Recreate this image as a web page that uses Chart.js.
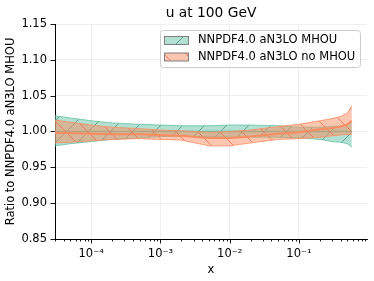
<!DOCTYPE html>
<html><head><meta charset="utf-8">
<script src="https://cdn.jsdelivr.net/npm/chart.js@4.4.0/dist/chart.umd.min.js"></script>
<style>html,body{margin:0;padding:0;background:#fff;}#wrap{width:374px;height:281px;}</style>
</head><body><div id="wrap"><canvas id="c" width="374" height="281"></canvas></div>
<script>
// ---- data ----
const xValues      = [3e-5, 5e-5, 1e-4, 2e-4, 5e-4, 1e-3, 2e-3, 5e-3, 1e-2, 2e-2, 5e-2, 0.1, 0.2, 0.3, 0.4, 0.5, 0.58];
const mhouUpper    = [1.022,1.019,1.015,1.012,1.010,1.009,1.008,1.008,1.009,1.009,1.008,1.006,1.006,1.007,1.008,1.010,1.012];
const mhouCentral  = [1.000,1.000,1.000,1.000,1.000,1.000,1.000,1.000,1.000,1.000,1.000,1.000,1.000,1.000,1.000,1.000,1.000];
const mhouLower    = [0.980,0.983,0.986,0.989,0.991,0.993,0.993,0.993,0.992,0.992,0.992,0.991,0.989,0.986,0.985,0.983,0.978];
const noMhouUpper  = [1.016,1.013,1.009,1.006,1.004,1.002,1.001,0.999,1.000,1.002,1.007,1.010,1.015,1.018,1.021,1.026,1.036];
const noMhouCentral= [0.998,0.998,0.997,0.996,0.996,0.995,0.994,0.991,0.991,0.993,0.997,0.999,1.003,1.005,1.007,1.010,1.015];
const noMhouLower  = [0.984,0.985,0.987,0.989,0.990,0.989,0.988,0.980,0.980,0.984,0.989,0.990,0.992,0.994,0.995,0.996,0.996];
const yTicks       = [0.85, 0.90, 0.95, 1.00, 1.05, 1.10, 1.15];
const xMajorTicks  = [1e-4, 1e-3, 1e-2, 1e-1];
const xTickLabels  = ['10\u207B\u2074', '10\u207B\u00B3', '10\u207B\u00B2', '10\u207B\u00B9'];
const seriesLabels = ['NNPDF4.0 aN3LO MHOU', 'NNPDF4.0 aN3LO no MHOU'];
const titleText    = 'u at 100 GeV';
const xTitle       = 'x';
const yTitle       = 'Ratio to NNPDF4.0 aN3LO MHOU';

// ---- styles ----
const FONT = 'DejaVu Sans';
const GREEN = 'rgb(102,194,165)';
const ORANGE = 'rgb(252,141,98)';
const canvas = document.getElementById('c');
const ctx0 = canvas.getContext('2d');

function hatch(fill, line, dir) {
  const s = 22;
  const c = document.createElement('canvas');
  c.width = s; c.height = s;
  const g = c.getContext('2d');
  g.fillStyle = fill; g.fillRect(0, 0, s, s);
  g.strokeStyle = line; g.lineWidth = 1;
  g.beginPath();
  for (const k of [-s, 0, s]) {
    if (dir > 0) { g.moveTo(k, s); g.lineTo(k + s, 0); }
    else { g.moveTo(k, 0); g.lineTo(k + s, s); }
  }
  g.stroke();
  return ctx0.createPattern(c, 'repeat');
}
const greenPattern = hatch('rgba(102,194,165,0.5)', 'rgba(70,140,118,0.75)', 1);
const orangePattern = hatch('rgba(252,141,98,0.5)', 'rgba(240,110,80,0.8)', -1);

function pts(ys) { return xValues.map((x, i) => ({x: x, y: ys[i]})); }

const base = {pointRadius: 0, tension: 0, borderWidth: 0.8};
const datasets = [
  Object.assign({}, base, {label: seriesLabels[0] + ' up', data: pts(mhouUpper), borderColor: GREEN, backgroundColor: greenPattern, fill: '+1', order: 6}),
  Object.assign({}, base, {label: seriesLabels[0] + ' low', data: pts(mhouLower), borderColor: GREEN, fill: false, order: 5}),
  Object.assign({}, base, {label: seriesLabels[0], data: pts(mhouCentral), borderColor: GREEN, borderWidth: 1.6, fill: false, order: 4}),
  Object.assign({}, base, {label: seriesLabels[1] + ' up', data: pts(noMhouUpper), borderColor: ORANGE, backgroundColor: orangePattern, fill: '+1', order: 3}),
  Object.assign({}, base, {label: seriesLabels[1] + ' low', data: pts(noMhouLower), borderColor: ORANGE, fill: false, order: 2}),
  Object.assign({}, base, {label: seriesLabels[1], data: pts(noMhouCentral), borderColor: ORANGE, borderWidth: 2, fill: false, order: 1})
];

const decorations = {
  id: 'decorations',
  afterDraw(chart) {
    const ctx = chart.ctx, a = chart.chartArea;
    const xs = chart.scales.x, ys = chart.scales.y;
    ctx.save();
    // tick marks
    ctx.strokeStyle = '#000'; ctx.lineWidth = 0.9;
    ctx.beginPath();
    xs.ticks.forEach(t => {
      const px = Math.round(xs.getPixelForValue(t.value)) + 0.5;
      const len = t.major ? 4.5 : 2.5;
      ctx.moveTo(px, a.bottom); ctx.lineTo(px, a.bottom + len);
    });
    ys.ticks.forEach(t => {
      const py = Math.round(ys.getPixelForValue(t.value)) + 0.5;
      ctx.moveTo(a.left, py); ctx.lineTo(a.left - 4.5, py);
    });
    ctx.stroke();
    // title
    ctx.fillStyle = '#000';
    ctx.font = '13.8px "' + FONT + '"';
    ctx.textAlign = 'center'; ctx.textBaseline = 'middle';
    ctx.fillText(titleText, (a.left + a.right) / 2, 13);
    // legend
    const bw = 200, bh = 37;
    const bx = a.right - 7 - bw, by = a.top + 6;
    ctx.beginPath();
    ctx.roundRect(bx + 0.5, by + 0.5, bw, bh, 3);
    ctx.fillStyle = 'rgba(255,255,255,0.8)'; ctx.fill();
    ctx.strokeStyle = '#cccccc'; ctx.lineWidth = 1; ctx.stroke();
    const pats = [greenPattern, orangePattern];
    ctx.font = '11.5px "' + FONT + '"';
    ctx.textAlign = 'left';
    seriesLabels.forEach((lab, i) => {
      const cy = by + 10 + i * 16.5;
      ctx.fillStyle = pats[i];
      ctx.fillRect(bx + 4.5, cy - 3.5, 24, 8);
      ctx.strokeStyle = '#808080'; ctx.lineWidth = 1;
      ctx.strokeRect(bx + 4.5, cy - 3.5, 24, 8);
      ctx.fillStyle = '#000';
      ctx.fillText(lab, bx + 38, cy + 0.5);
    });
    ctx.restore();
  }
};

new Chart(canvas, {
  type: 'line',
  data: {datasets: datasets},
  plugins: [decorations],
  options: {
    responsive: false,
    animation: false,
    devicePixelRatio: 1,
    layout: {padding: {top: 24, right: 7, left: 0, bottom: 0}},
    plugins: {legend: {display: false}, tooltip: {enabled: false}, title: {display: false}},
    scales: {
      x: {
        type: 'logarithmic',
        min: 3e-5, max: 0.96,
        afterFit(s) { s.height = 42; },
        afterBuildTicks(s) {
          const t = [];
          for (let e = -5; e <= 0; e++) {
            for (let m = 1; m <= 9; m++) {
              const v = m * Math.pow(10, e);
              if (v >= 3e-5 && v <= 0.96) t.push({value: v, major: m === 1});
            }
          }
          s.ticks = t;
        },
        ticks: {
          autoSkip: false, maxRotation: 0, minRotation: 0, padding: 4,
          color: '#000', font: {family: FONT, size: 11.5},
          callback(v) {
            const i = xMajorTicks.findIndex(m => Math.abs(Math.log10(m) - Math.log10(v)) < 1e-6);
            return i >= 0 ? xTickLabels[i] : '';
          }
        },
        grid: {
          color(c) { return (c.tick && c.tick.major) ? '#ebebeb' : 'rgba(0,0,0,0)'; },
          lineWidth: 0.8, tickLength: 4, tickColor: 'rgba(0,0,0,0)'
        },
        border: {display: true, color: '#000', width: 1},
        title: {display: true, text: xTitle, color: '#000', font: {family: FONT, size: 11.5}, padding: {top: 2, bottom: 4}}
      },
      y: {
        type: 'linear',
        min: 0.85, max: 1.15,
        afterFit(s) { s.width = 55; },
        afterBuildTicks(s) { s.ticks = yTicks.map(v => ({value: v})); },
        ticks: {
          padding: 4, color: '#000', font: {family: FONT, size: 11.5},
          callback(v) { return v.toFixed(2); }
        },
        grid: {color: '#ebebeb', lineWidth: 0.8, tickLength: 4, tickColor: 'rgba(0,0,0,0)'},
        border: {display: true, color: '#000', width: 1},
        title: {display: true, text: yTitle, color: '#000', font: {family: FONT, size: 11.5}, padding: {top: 4, bottom: 0}}
      }
    }
  }
});
</script>
</body></html>
